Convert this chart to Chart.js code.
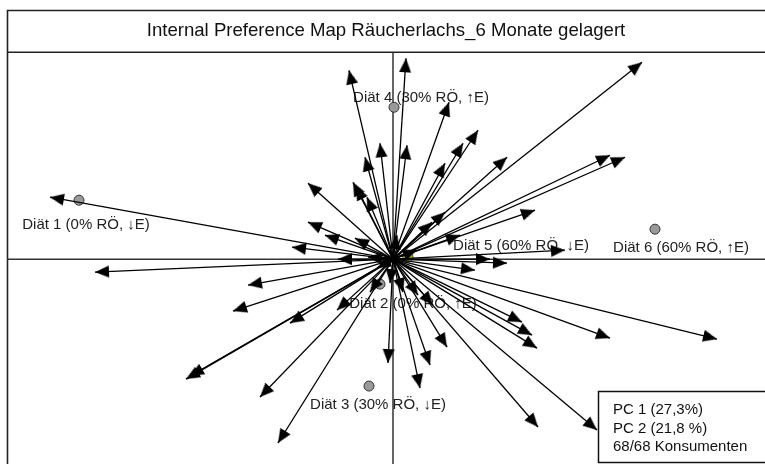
<!DOCTYPE html>
<html>
<head>
<meta charset="utf-8">
<script src="https://cdn.jsdelivr.net/npm/chart.js@4.4.0/dist/chart.umd.min.js"></script>
<style>
  html, body { margin: 0; padding: 0; background: #fff; }
  #wrap { width: 765px; height: 464px; }
</style>
</head>
<body>
<div id="wrap"><canvas id="map"></canvas></div>
<script>
// Konsumenten-Vektoren (PC1, PC2)
const consumerX = [-0.44, 0.13, 0.56, 0.85, 0.70, 0.52, 1.14, -0.13, 0.14, -0.28,
  -0.40, -0.37, -0.26, -0.85, -0.85, -0.68, -0.38, 0.52, 0.39, 1.42,
  0.67, 0.04, 2.49, 2.17, 2.32, 1.72, 1.14, 0.97, 0.82, -3.43,
  -2.98, -1.45, -1.60, -2.07, -2.03, -1.01, -0.55, -1.03, -0.56, -0.23,
  -0.16, -0.03, -0.05, 0.10, 0.25, 0.40, 0.54, 0.37, 0.27, -1.33,
  -1.15, 1.29, 1.39, 1.44, 2.17, 3.24, 1.45, 2.04, -0.25, 0.24];
const consumerY = [1.89, 2.01, 1.57, 1.29, 1.16, 0.96, 1.02, 1.16, 1.14, 1.02,
  0.77, 0.73, 0.62, 0.76, 0.37, 0.24, 0.21, 0.47, 0.37, 0.49,
  0.24, 0.24, 1.97, 1.04, 1.02, 0.09, -0.04, 0.00, -0.11, 0.62,
  -0.13, -0.26, -0.52, -1.20, -1.17, 0.12, 0.00, -0.64, -0.51, -0.33,
  -0.09, -0.24, -1.04, -0.33, -0.36, -0.46, -0.88, -1.06, -1.29, -1.38,
  -1.84, -0.63, -0.76, -0.89, -0.79, -0.80, -1.68, -1.71, 0.02, 0.09];

// Produkte
const productNames = ['Diät 1 (0% RÖ, ↓E)', 'Diät 2 (0% RÖ, ↑E)', 'Diät 3 (30% RÖ, ↓E)',
  'Diät 4 (30% RÖ, ↑E)', 'Diät 5 (60% RÖ, ↓E)', 'Diät 6 (60% RÖ, ↑E)'];
const productX = [-3.14, -0.13, -0.24, 0.01, 0.15, 2.62];
const productY = [0.59, -0.25, -1.27, 1.52, 0.02, 0.30];

const chartTitle = 'Internal Preference Map Räucherlachs_6 Monate gelagert';
const infoLines = ['PC 1 (27,3%)', 'PC 2 (21,8 %)', '68/68 Konsumenten'];

// label offsets in px (centre of text relative to the point)
const labelOffsets = [[7, 25], [33, 20], [9, 19], [27, -9], [113, -11], [26, 19]];
const productColors = ['#999999', '#999999', '#999999', '#999999', '#c8dc3c', '#999999'];

const FONT = '"Liberation Sans", Arial, sans-serif';

// arrow head: tip sits at the centre of the canvas, pointing up
const head = document.createElement('canvas');
head.width = 32; head.height = 32;
(function () {
  const g = head.getContext('2d');
  g.fillStyle = '#000';
  g.beginPath();
  g.moveTo(16, 16);
  g.lineTo(22, 30);
  g.lineTo(10, 30);
  g.closePath();
  g.fill();
})();

function headRotation(ctx) {
  if (!ctx.dataIndex || !ctx.raw) return 0;
  const xs = ctx.chart.scales.x, ys = ctx.chart.scales.y;
  const dx = xs.getPixelForValue(ctx.raw.x) - xs.getPixelForValue(0);
  const dy = ys.getPixelForValue(ctx.raw.y) - ys.getPixelForValue(0);
  return Math.atan2(dx, -dy) * 180 / Math.PI;
}

const arrowSets = consumerX.map((x, i) => ({
  data: [{ x: 0, y: 0 }, { x: x, y: consumerY[i] }],
  showLine: true,
  borderColor: '#000',
  borderWidth: 1.3,
  pointStyle: head,
  pointRadius: c => c.dataIndex ? 6 : 0,
  pointHoverRadius: c => c.dataIndex ? 6 : 0,
  rotation: headRotation,
  clip: false,
}));

const productSet = {
  data: productX.map((x, i) => ({ x: x, y: productY[i] })),
  pointRadius: 5,
  pointBackgroundColor: productColors,
  pointBorderColor: '#333',
  pointBorderWidth: 1,
};

const framePlugin = {
  id: 'frame',
  beforeDatasetsDraw(chart) {
    const g = chart.ctx, a = chart.chartArea;
    const x0 = chart.scales.x.getPixelForValue(0);
    const y0 = chart.scales.y.getPixelForValue(0);
    g.save();
    // outer frame + title box
    g.strokeStyle = '#222';
    g.lineWidth = 1.6;
    g.beginPath();
    g.moveTo(chart.width + 2, 10.5); g.lineTo(7.5, 10.5); g.lineTo(7.5, chart.height + 2);
    g.moveTo(7.5, a.top); g.lineTo(chart.width + 2, a.top);
    g.stroke();
    // axes through the origin
    g.strokeStyle = '#333';
    g.lineWidth = 1.5;
    g.beginPath();
    g.moveTo(a.left, y0); g.lineTo(a.right, y0);
    g.moveTo(x0, a.top); g.lineTo(x0, a.bottom);
    g.stroke();
    // product labels
    g.fillStyle = '#222';
    g.font = '15px ' + FONT;
    g.textAlign = 'center';
    g.textBaseline = 'middle';
    productNames.forEach((n, i) => {
      const px = chart.scales.x.getPixelForValue(productX[i]);
      const py = chart.scales.y.getPixelForValue(productY[i]);
      g.fillText(n, px + labelOffsets[i][0], py + labelOffsets[i][1]);
    });
    g.restore();
  },
  afterDraw(chart) {
    const g = chart.ctx;
    g.save();
    g.fillStyle = '#fff';
    g.strokeStyle = '#111';
    g.lineWidth = 1.5;
    g.fillRect(598, 391, 170, 72);
    g.strokeRect(598.5, 391.5, 170, 71);
    g.fillStyle = '#111';
    g.font = '15px ' + FONT;
    g.textBaseline = 'middle';
    infoLines.forEach((t, i) => g.fillText(t, 613, 410 + i * 18.5));
    g.restore();
  }
};

new Chart(document.getElementById('map'), {
  type: 'scatter',
  data: { datasets: [...arrowSets, productSet] },
  options: {
    responsive: true,
    maintainAspectRatio: false,
    animation: false,
    layout: { autoPadding: false, padding: { left: 7, right: 0, top: 0, bottom: 0 } },
    plugins: {
      legend: { display: false },
      tooltip: { enabled: false },
      title: {
        display: true,
        text: chartTitle,
        color: '#111',
        font: { family: FONT, size: 18.6, weight: 'normal', lineHeight: 1.2 },
        padding: { top: 20, bottom: 10 },
      },
    },
    scales: {
      x: { type: 'linear', display: false, min: -3.86, max: 3.72 },
      y: { type: 'linear', display: false, min: -2.05, max: 2.07 },
    },
  },
  plugins: [framePlugin],
});
</script>
</body>
</html>
